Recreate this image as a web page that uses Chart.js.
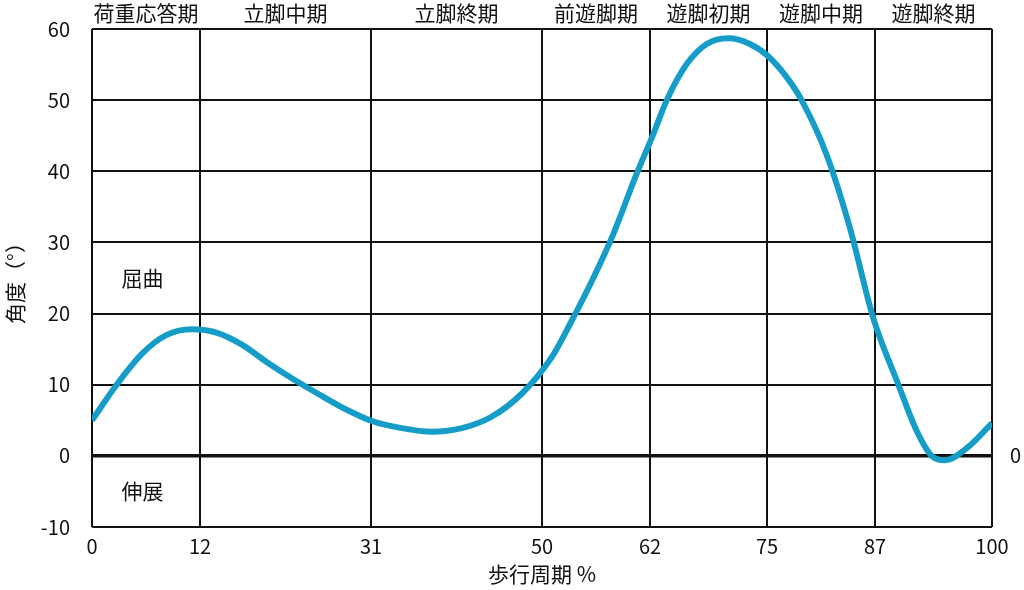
<!DOCTYPE html>
<html lang="ja">
<head>
<meta charset="utf-8">
<script src="https://cdn.jsdelivr.net/npm/chart.js@4.4.0/dist/chart.umd.min.js"></script>
<style>
  html, body { margin: 0; padding: 0; background: #fff; }
  #wrap { width: 1024px; height: 590px; }
</style>
</head>
<body>
<div id="wrap"><canvas id="chart"></canvas></div>
<script>
// knee angle over the gait cycle
const gaitPct   = [0, 2.8, 5.6, 8.3, 11.1, 13.9, 16.7, 19.4, 22.2, 25, 27.8, 31.1, 34.4, 37.8, 41.1, 44.4, 47.8, 51.1, 53.1, 55.7, 57.9, 60.5, 62.2, 63.9, 66.1, 68.3, 70.7, 73.1, 75.1, 77.2, 78.8, 81.6, 84.2, 86.8, 89.6, 91.6, 93.3, 94.8, 97.4, 100];
const kneeAngle = [5.0, 10.1, 14.4, 17.0, 17.8, 17.3, 15.6, 13.2, 10.9, 8.8, 6.8, 4.9, 3.9, 3.4, 3.9, 5.5, 8.8, 13.9, 18.5, 25.0, 31.1, 39.6, 44.7, 50.1, 55.1, 57.9, 58.7, 57.9, 56.2, 53.2, 50.1, 42.4, 32.1, 19.4, 10, 3.6, 0, -0.6, 1.3, 4.6];

const phaseTicks = [0, 12, 31, 50, 62, 75, 87, 100];
const phaseNames = ["荷重応答期", "立脚中期", "立脚終期", "前遊脚期", "遊脚初期", "遊脚中期", "遊脚終期"];
const angleTicks = [-10, 0, 10, 20, 30, 40, 50, 60];

const FONT = "'Noto Sans CJK JP', 'Noto Sans', sans-serif";
const INK = "#111";
const LINE = "#159dc7";

// midpoints of each phase, used for the labels along the top
const phaseMids = phaseNames.map((_, i) => (phaseTicks[i] + phaseTicks[i + 1]) / 2);

const notes = [
  { text: "屈曲", x: 5.6, y: 25 },
  { text: "伸展", x: 5.6, y: -5 },
];

const notePlugin = {
  id: "notes",
  afterDatasetsDraw(chart) {
    const { ctx, scales } = chart;
    ctx.save();
    ctx.font = "21px " + FONT;
    ctx.fillStyle = INK;
    ctx.textAlign = "center";
    ctx.textBaseline = "middle";
    notes.forEach(n => {
      ctx.fillText(n.text, scales.x.getPixelForValue(n.x), scales.y.getPixelForValue(n.y));
    });
    ctx.restore();
  }
};

new Chart(document.getElementById("chart"), {
  type: "line",
  data: {
    datasets: [{
      data: gaitPct.map((x, i) => ({ x, y: kneeAngle[i] })),
      borderColor: LINE,
      borderWidth: 6,
      pointRadius: 0,
      cubicInterpolationMode: "monotone",
      borderCapStyle: "butt",
    }]
  },
  options: {
    responsive: true,
    maintainAspectRatio: false,
    animation: false,
    layout: { padding: 0 },
    plugins: { legend: { display: false }, tooltip: { enabled: false } },
    scales: {
      x: {
        type: "linear",
        position: "bottom",
        min: 0, max: 100,
        afterBuildTicks: s => { s.ticks = phaseTicks.map(v => ({ value: v })); },
        afterFit: s => { s.height = 63; },
        ticks: { autoSkip: false, maxRotation: 0, padding: 7, color: INK, font: { family: FONT, size: 20 } },
        grid: { color: INK, lineWidth: 2, drawTicks: false },
        border: { display: false },
        title: { display: true, text: "歩行周期 %", color: INK, font: { family: FONT, size: 21 }, padding: { top: 0, bottom: 3 } },
      },
      phase: {
        type: "linear",
        position: "top",
        min: 0, max: 100,
        afterBuildTicks: s => { s.ticks = phaseMids.map(v => ({ value: v })); },
        afterFit: s => { s.height = 29; },
        ticks: {
          autoSkip: false, maxRotation: 0, padding: 3, color: INK,
          font: { family: FONT, size: 21 },
          callback: (v, i) => phaseNames[i],
        },
        grid: { display: false, drawTicks: false },
        border: { display: false },
      },
      y: {
        type: "linear",
        position: "left",
        min: -10, max: 60,
        afterBuildTicks: s => { s.ticks = angleTicks.map(v => ({ value: v })); },
        afterFit: s => { s.width = 92; },
        ticks: { padding: 2, color: INK, font: { family: FONT, size: 20 } },
        // invisible tick marks push the labels away from the plot
        grid: {
          color: INK,
          lineWidth: c => (c.tick && c.tick.value === 0 ? 3.5 : 2),
          drawTicks: true, tickLength: 20, tickColor: "rgba(0,0,0,0)",
        },
        border: { display: false },
        title: { display: true, text: "角度（°）", color: INK, font: { family: FONT, size: 21 }, padding: { top: 2, bottom: 0 } },
      },
      right: {
        type: "linear",
        position: "right",
        min: -10, max: 60,
        afterBuildTicks: s => { s.ticks = [{ value: 0 }]; },
        afterFit: s => { s.width = 32; },
        ticks: { padding: 2, color: INK, font: { family: FONT, size: 20 } },
        grid: { display: false, drawOnChartArea: false, drawTicks: true, tickLength: 16, tickColor: "rgba(0,0,0,0)" },
        border: { display: false },
      },
    }
  },
  plugins: [notePlugin]
});
</script>
</body>
</html>
